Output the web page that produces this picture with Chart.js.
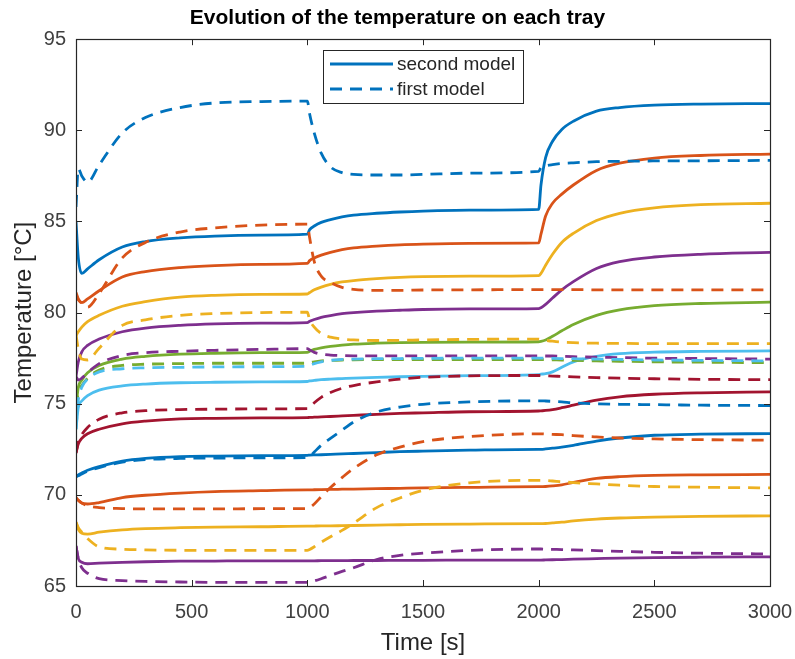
<!DOCTYPE html>
<html>
<head>
<meta charset="utf-8">
<title>Evolution of the temperature on each tray</title>
<script src="https://cdn.jsdelivr.net/npm/chart.js@4.4.1/dist/chart.umd.min.js"></script>
<style>
  html, body { margin: 0; padding: 0; background: #fff; }
  #wrap { width: 795px; height: 659px; }
</style>
</head>
<body>
<div id="wrap"><canvas id="chart" width="795" height="659"></canvas></div>
<script>
// ── Data (time in s, temperatures in °C) ─────────────────────────────────────
const time = [0, 10, 25, 50, 100, 200, 300, 450, 600, 800, 1000, 1010, 1030, 1060, 1100, 1150,
              1200, 1300, 1400, 1500, 1700, 2000, 2010, 2030, 2060, 2100, 2150, 2250, 2350, 2500, 2700, 3000]

const xTicks = [0, 500, 1000, 1500, 2000, 2500, 3000]
const yTicks = [65, 70, 75, 80, 85, 90, 95]

// second model (solid), tray 1 .. 11
const tray1Second  = [85.0, 83.0, 82.15, 82.4, 82.9, 83.6, 83.9, 84.1, 84.2, 84.25, 84.3, 84.55, 84.75, 84.95, 85.1, 85.25,
                      85.35, 85.45, 85.52, 85.57, 85.62, 85.66, 87.0, 88.5, 89.4, 90.05, 90.5, 91.05, 91.25, 91.38, 91.44, 91.47]
const tray2Second  = [81.0, 80.7, 80.55, 80.75, 81.2, 81.95, 82.25, 82.47, 82.58, 82.65, 82.7, 82.85, 83.0, 83.15, 83.3, 83.45,
                      83.55, 83.65, 83.72, 83.76, 83.8, 83.82, 84.3, 85.3, 86.0, 86.5, 87.0, 87.8, 88.2, 88.48, 88.62, 88.7]
const tray3Second  = [78.75, 78.95, 79.2, 79.5, 79.85, 80.35, 80.6, 80.85, 80.95, 81.0, 81.02, 81.1, 81.25, 81.4, 81.55, 81.68,
                      81.76, 81.86, 81.93, 81.97, 82.0, 82.03, 82.15, 82.6, 83.2, 83.85, 84.35, 85.05, 85.45, 85.75, 85.92, 86.0]
const tray4Second  = [76.5, 77.3, 77.85, 78.2, 78.55, 78.95, 79.15, 79.3, 79.38, 79.42, 79.45, 79.52, 79.62, 79.74, 79.84, 79.94,
                      80.0, 80.08, 80.13, 80.17, 80.2, 80.22, 80.27, 80.45, 80.8, 81.25, 81.7, 82.42, 82.8, 83.05, 83.2, 83.3]
const tray5Second  = [74.8, 75.9, 76.3, 76.7, 77.1, 77.45, 77.6, 77.72, 77.77, 77.8, 77.82, 77.88, 77.98, 78.07, 78.15, 78.22,
                      78.27, 78.32, 78.35, 78.37, 78.38, 78.4, 78.42, 78.5, 78.7, 79.0, 79.35, 79.85, 80.15, 80.38, 80.5, 80.57]
const tray6Second  = [73.6, 74.8, 75.15, 75.45, 75.75, 75.98, 76.08, 76.15, 76.18, 76.2, 76.22, 76.25, 76.28, 76.32, 76.35, 76.38,
                      76.41, 76.45, 76.48, 76.5, 76.54, 76.6, 76.62, 76.65, 76.75, 77.0, 77.3, 77.6, 77.75, 77.83, 77.87, 77.9]
const tray7Second  = [72.3, 72.8, 73.1, 73.35, 73.6, 73.9, 74.05, 74.17, 74.2, 74.22, 74.24, 74.25, 74.26, 74.28, 74.3, 74.33,
                      74.36, 74.42, 74.47, 74.5, 74.56, 74.6, 74.61, 74.63, 74.68, 74.78, 74.92, 75.2, 75.38, 75.52, 75.6, 75.65]
const tray8Second  = [71.0, 71.1, 71.2, 71.35, 71.55, 71.85, 72.0, 72.1, 72.13, 72.15, 72.17, 72.18, 72.19, 72.2, 72.22, 72.25,
                      72.27, 72.32, 72.37, 72.4, 72.45, 72.5, 72.5, 72.52, 72.56, 72.62, 72.72, 72.95, 73.12, 73.27, 73.33, 73.36]
const tray9Second  = [69.85, 69.7, 69.55, 69.5, 69.58, 69.85, 69.98, 70.1, 70.18, 70.23, 70.27, 70.27, 70.28, 70.29, 70.3, 70.31,
                      70.32, 70.34, 70.36, 70.38, 70.41, 70.45, 70.45, 70.46, 70.49, 70.55, 70.68, 70.9, 71.0, 71.07, 71.1, 71.12]
const tray10Second = [68.5, 68.1, 67.9, 67.85, 67.95, 68.08, 68.15, 68.2, 68.23, 68.25, 68.28, 68.28, 68.29, 68.3, 68.3, 68.31,
                      68.32, 68.34, 68.36, 68.38, 68.4, 68.42, 68.42, 68.43, 68.46, 68.5, 68.57, 68.67, 68.73, 68.78, 68.82, 68.85]
const tray11Second = [67.2, 66.5, 66.3, 66.22, 66.25, 66.3, 66.33, 66.36, 66.37, 66.38, 66.38, 66.38, 66.38, 66.39, 66.39, 66.39,
                      66.4, 66.4, 66.41, 66.41, 66.42, 66.42, 66.42, 66.43, 66.44, 66.45, 66.47, 66.5, 66.53, 66.56, 66.58, 66.6]

// first model (dashed), tray 1 .. 11
const tray1First  = [85.8, 87.9, 87.5, 87.15, 88.1, 89.85, 90.7, 91.25, 91.5, 91.58, 91.6, 90.9, 89.85, 88.75, 88.0, 87.68,
                     87.58, 87.55, 87.55, 87.58, 87.65, 87.75, 87.95, 88.05, 88.12, 88.18, 88.22, 88.28, 88.3, 88.32, 88.33, 88.35]
const tray2First  = [81.1, 80.75, 80.5, 80.3, 81.05, 83.0, 83.85, 84.42, 84.65, 84.8, 84.85, 84.1, 82.8, 82.0, 81.65, 81.38,
                     81.27, 81.22, 81.22, 81.24, 81.25, 81.26, 81.26, 81.26, 81.26, 81.26, 81.26, 81.25, 81.25, 81.25, 81.25, 81.25]
const tray3First  = [78.8, 78.0, 77.45, 77.4, 78.05, 79.3, 79.6, 79.85, 79.95, 80.0, 80.02, 79.6, 79.2, 78.85, 78.65, 78.55,
                     78.5, 78.47, 78.48, 78.5, 78.53, 78.55, 78.52, 78.48, 78.43, 78.38, 78.35, 78.32, 78.31, 78.3, 78.3, 78.3]
const tray4First  = [76.5, 76.3, 76.4, 76.7, 77.2, 77.65, 77.8, 77.88, 77.93, 77.98, 78.02, 77.95, 77.82, 77.72, 77.67, 77.64,
                     77.63, 77.63, 77.63, 77.63, 77.63, 77.63, 77.63, 77.62, 77.62, 77.6, 77.58, 77.55, 77.53, 77.5, 77.48, 77.45]
const tray5First  = [74.8, 75.6, 76.0, 76.4, 76.85, 77.1, 77.17, 77.2, 77.22, 77.22, 77.22, 77.25, 77.3, 77.35, 77.38, 77.4,
                     77.41, 77.42, 77.42, 77.42, 77.42, 77.42, 77.42, 77.42, 77.41, 77.4, 77.38, 77.35, 77.33, 77.3, 77.28, 77.25]
const tray6First  = [73.6, 75.2, 75.9, 76.35, 76.75, 76.92, 76.97, 77.0, 77.02, 77.03, 77.05, 77.1, 77.2, 77.3, 77.38, 77.43,
                     77.45, 77.47, 77.48, 77.49, 77.5, 77.5, 77.5, 77.5, 77.49, 77.48, 77.47, 77.45, 77.43, 77.4, 77.38, 77.35]
const tray7First  = [72.3, 72.9, 73.3, 73.7, 74.15, 74.5, 74.62, 74.68, 74.7, 74.72, 74.73, 74.8, 75.05, 75.35, 75.62, 75.85,
                     76.0, 76.2, 76.35, 76.45, 76.53, 76.55, 76.55, 76.54, 76.52, 76.5, 76.47, 76.43, 76.4, 76.37, 76.34, 76.32]
const tray8First  = [71.0, 71.05, 71.15, 71.3, 71.5, 71.8, 71.93, 72.0, 72.02, 72.03, 72.05, 72.1, 72.35, 72.72, 73.1, 73.55,
                     74.0, 74.55, 74.82, 74.97, 75.1, 75.16, 75.16, 75.15, 75.13, 75.1, 75.05, 75.0, 74.97, 74.95, 74.92, 74.9]
const tray9First  = [69.85, 69.7, 69.55, 69.4, 69.3, 69.25, 69.23, 69.23, 69.23, 69.24, 69.25, 69.3, 69.5, 69.9, 70.4, 70.95,
                     71.45, 72.2, 72.62, 72.92, 73.2, 73.35, 73.35, 73.34, 73.32, 73.3, 73.25, 73.18, 73.12, 73.07, 73.03, 73.0]
const tray10First = [68.5, 68.2, 67.95, 67.6, 67.15, 67.02, 66.98, 66.96, 66.95, 66.95, 66.95, 67.0, 67.15, 67.4, 67.7, 68.05,
                     68.45, 69.3, 69.83, 70.25, 70.66, 70.8, 70.8, 70.79, 70.76, 70.72, 70.67, 70.6, 70.53, 70.46, 70.42, 70.38]
const tray11First = [67.2, 66.5, 66.0, 65.7, 65.4, 65.3, 65.25, 65.22, 65.2, 65.2, 65.2, 65.22, 65.28, 65.4, 65.58, 65.8,
                     66.0, 66.45, 66.68, 66.8, 66.95, 67.03, 67.03, 67.02, 67.01, 67.0, 66.98, 66.94, 66.9, 66.85, 66.8, 66.76]

const secondModel = [tray1Second, tray2Second, tray3Second, tray4Second, tray5Second, tray6Second,
                     tray7Second, tray8Second, tray9Second, tray10Second, tray11Second]
const firstModel  = [tray1First, tray2First, tray3First, tray4First, tray5First, tray6First,
                     tray7First, tray8First, tray9First, tray10First, tray11First]

// MATLAB default colour order
const colors = ['#0072BD', '#D95319', '#EDB120', '#7E2F8E', '#77AC30', '#4DBEEE', '#A2142F']

const FONT = "'Liberation Sans', Arial, Helvetica, sans-serif"
const AXIS_COLOR = '#262626'
const DASH = [12, 8]

const toPoints = (ys) => ys.map((y, i) => ({ x: time[i], y }))

const datasets = []
secondModel.forEach((ys, i) => {
    datasets.push({
        label: i === 0 ? 'second model' : 'tray ' + (i + 1) + ' (second model)',
        data: toPoints(ys),
        borderColor: colors[i % colors.length],
        borderWidth: 2.8,
        pointRadius: 0,
        cubicInterpolationMode: 'monotone',
        order: 100 - i,
    })
})
firstModel.forEach((ys, i) => {
    datasets.push({
        label: i === 0 ? 'first model' : 'tray ' + (i + 1) + ' (first model)',
        data: toPoints(ys),
        borderColor: colors[i % colors.length],
        borderWidth: 2.8,
        borderDash: DASH,
        pointRadius: 0,
        cubicInterpolationMode: 'monotone',
        order: 50 - i,
    })
})

// ── Box with inward ticks (MATLAB style axes) ────────────────────────────────
const axesBox = {
    id: 'axesBox',
    afterDatasetsDraw(chart) {
        const { ctx, chartArea: a, scales } = chart
        const len = 6
        ctx.save()
        ctx.strokeStyle = AXIS_COLOR
        ctx.lineWidth = 1
        ctx.beginPath()
        scales.x.ticks.forEach((t) => {
            const px = Math.round(scales.x.getPixelForValue(t.value)) + 0.5
            ctx.moveTo(px, a.bottom); ctx.lineTo(px, a.bottom - len)
            ctx.moveTo(px, a.top); ctx.lineTo(px, a.top + len)
        })
        scales.y.ticks.forEach((t) => {
            const py = Math.round(scales.y.getPixelForValue(t.value)) + 0.5
            ctx.moveTo(a.left, py); ctx.lineTo(a.left + len, py)
            ctx.moveTo(a.right, py); ctx.lineTo(a.right - len, py)
        })
        ctx.stroke()
        ctx.lineWidth = 1.2
        ctx.strokeRect(Math.round(a.left) + 0.5, Math.round(a.top) + 0.5,
                       Math.round(a.right - a.left), Math.round(a.bottom - a.top))
        ctx.restore()
    },
}

// ── Boxed legend inside the axes ─────────────────────────────────────────────
const boxLegend = {
    id: 'boxLegend',
    afterDraw(chart) {
        const { ctx } = chart
        const entries = [datasets[0], datasets[secondModel.length]]
        const x = 323, y = 50, w = 200, h = 53
        ctx.save()
        ctx.fillStyle = '#fff'
        ctx.fillRect(x, y, w, h)
        ctx.strokeStyle = AXIS_COLOR
        ctx.lineWidth = 1
        ctx.strokeRect(x + 0.5, y + 0.5, w, h)
        ctx.font = '19px ' + FONT
        ctx.textBaseline = 'middle'
        entries.forEach((ds, i) => {
            const ly = y + 14 + i * 25
            ctx.strokeStyle = ds.borderColor
            ctx.lineWidth = ds.borderWidth
            ctx.setLineDash(ds.borderDash || [])
            ctx.beginPath()
            ctx.moveTo(x + 7, ly); ctx.lineTo(x + 70, ly)
            ctx.stroke()
            ctx.setLineDash([])
            ctx.fillStyle = AXIS_COLOR
            ctx.fillText(ds.label, x + 74, ly + 1)
        })
        ctx.restore()
    },
}

new Chart(document.getElementById('chart'), {
    type: 'line',
    data: { datasets },
    plugins: [axesBox, boxLegend],
    options: {
        responsive: false,
        animation: false,
        layout: { padding: 0 },
        plugins: {
            legend: { display: false },
            tooltip: { enabled: false },
            title: {
                display: true,
                text: 'Evolution of the temperature on each tray',
                color: '#000',
                font: { family: FONT, size: 21, weight: 'bold', lineHeight: 1.2 },
                padding: { top: 6, bottom: 8 },
            },
        },
        scales: {
            x: {
                type: 'linear',
                min: 0,
                max: 3000,
                afterBuildTicks: (s) => { s.ticks = xTicks.map((v) => ({ value: v })) },
                afterFit: (s) => { s.height = 73; s.paddingLeft = 0; s.paddingRight = 25 },
                grid: { display: false, drawTicks: false },
                border: { display: false },
                ticks: { color: '#404040', padding: 14, maxRotation: 0,
                         callback: (v) => String(v),
                         font: { family: FONT, size: 20, lineHeight: 1.2 } },
                title: { display: true, text: 'Time [s]', color: '#262626',
                         font: { family: FONT, size: 24, lineHeight: 1.2 },
                         padding: { top: 0, bottom: 1 } },
            },
            y: {
                min: 65,
                max: 95,
                afterBuildTicks: (s) => { s.ticks = yTicks.map((v) => ({ value: v })) },
                afterFit: (s) => { s.width = 76 },
                grid: { display: false, drawTicks: false },
                border: { display: false },
                ticks: { color: '#404040', padding: 10,
                         callback: (v) => String(v),
                         font: { family: FONT, size: 20, lineHeight: 1.2 } },
                title: { display: true, text: 'Temperature [°C]', color: '#262626',
                         font: { family: FONT, size: 24, lineHeight: 1.2 },
                         padding: { top: 10, bottom: 0 } },
            },
        },
    },
})
</script>
</body>
</html>
